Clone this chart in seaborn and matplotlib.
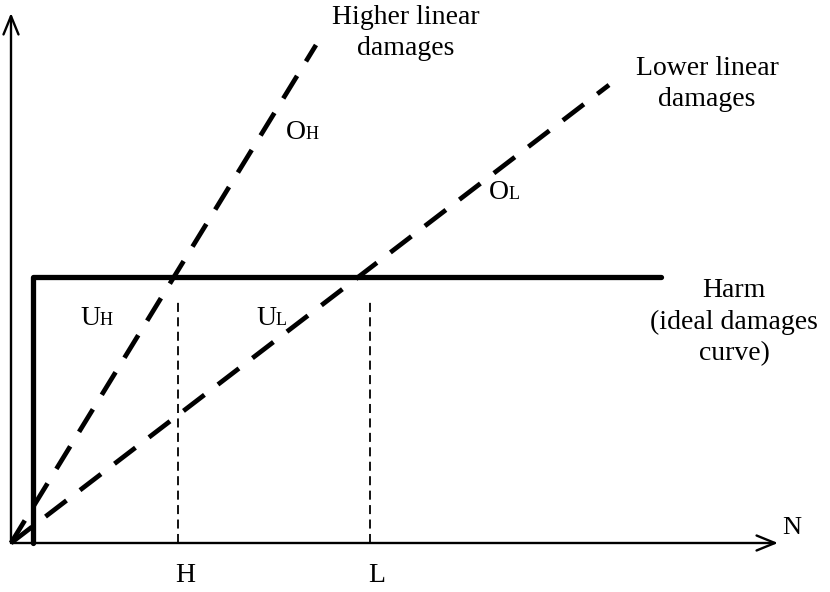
import matplotlib
matplotlib.use("Agg")
import matplotlib.pyplot as plt
import seaborn as sns

# Daten (Einheiten: 1 = 100 px ab Ursprung)
harm_x = [0.22, 0.22, 6.50]
harm_y = [0.0, 2.66, 2.66]
high_x = [0.0, 3.05]
high_y = [0.0, 4.98]
low_x = [0.0, 5.98]
low_y = [0.0, 4.58]
mark_names = ["H", "L"]
mark_x = [1.67, 3.59]
mark_top = 2.41

sns.set_theme(style="white")
plt.rcParams["font.family"] = ["Liberation Serif", "DejaVu Serif"]
plt.rcParams["text.color"] = "black"

fig = plt.figure(figsize=(8.3, 5.92), dpi=100)
ax = fig.add_axes([0, 0, 1, 1])
ax.set_xlim(-0.11, 8.19)
ax.set_ylim(-0.49, 5.43)
ax.axis("off")

# Achsen mit Pfeilen
pfeil = dict(arrowstyle="->,head_length=1.1,head_width=0.45", color="black", lw=1.7,
             shrinkA=0, shrinkB=0)
ax.annotate("", xy=(0, 5.30), xytext=(0, 0), arrowprops=pfeil)
ax.annotate("", xy=(7.67, 0), xytext=(0, 0), arrowprops=pfeil)
ax.text(7.81, 0.15, "N", fontsize=19, ha="center", va="center")

# Harm-Kurve
sns.lineplot(x=harm_x, y=harm_y, ax=ax, color="black", lw=3.8, sort=False,
             estimator=None)

# lineare Schadensersatzlinien
for xs, ys in [(high_x, high_y), (low_x, low_y)]:
    sns.lineplot(x=xs, y=ys, ax=ax, color="black", lw=3.4, estimator=None,
                 dashes=False, linestyle=(0, (5.6, 3.6)))

# H und L
for name, xv in zip(mark_names, mark_x):
    ax.plot([xv, xv], [0, mark_top], color="black", lw=1.3, linestyle=(0, (5, 3)))
    ax.text(xv + 0.07, -0.33, name, fontsize=20, ha="center", va="center")

ax.text(3.95, 5.10, "Higher linear\ndamages", fontsize=20, ha="center", va="center",
        linespacing=1.3)
ax.text(6.96, 4.59, "Lower linear\ndamages", fontsize=20, ha="center", va="center",
        linespacing=1.3)
ax.text(7.23, 2.21, "Harm\n(ideal damages\ncurve)", fontsize=20, ha="center",
        va="center", linespacing=1.35)

# Bereiche
def label(x, y, a, b):
    ax.text(x, y, a, fontsize=20, ha="right", va="baseline")
    ax.text(x, y, b, fontsize=13, ha="left", va="baseline")

label(2.95, 4.04, "O", "H")
label(4.98, 3.44, "O", "L")
label(0.89, 2.18, "U", "H")
label(2.65, 2.18, "U", "L")

fig.savefig("out.png", dpi=100)
